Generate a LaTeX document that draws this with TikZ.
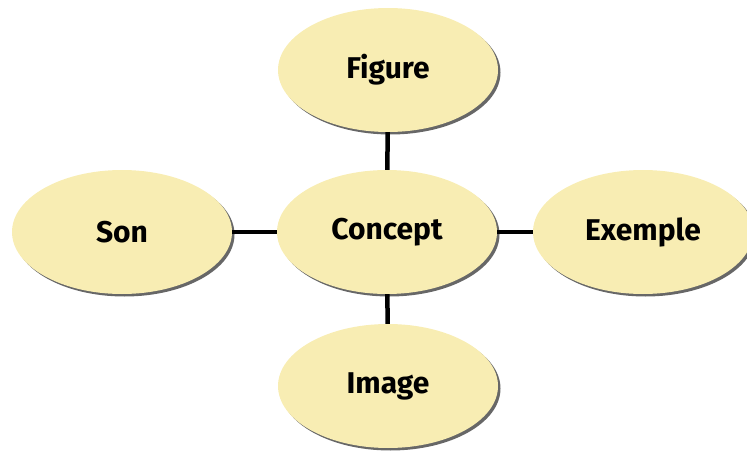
\documentclass[tikz,border=0pt]{standalone}
\usepackage{fontspec}
\setmainfont{Fira Sans}
\usepackage{tikz}
\usetikzlibrary{shapes.geometric,shadows}

\definecolor{creme}{HTML}{F8EDB3}

\begin{document}
\begin{tikzpicture}[x=1pt,y=1pt,
  bulle/.style={ellipse,fill=creme,minimum width=220pt,minimum height=124pt,inner sep=0pt,
    font=\fontsize{30}{33}\selectfont\bfseries,
    drop shadow={shadow xshift=2.5pt,shadow yshift=-2.5pt,opacity=0.7,fill=black!85}},
  lien/.style={line width=4.5pt,black}]
\useasboundingbox (0,0) rectangle (747,456);
\node[bulle] (concept) at (387,224) {Concept};
\node[bulle] (figure) at (388,386) {Figure};
\node[bulle] (son) at (122,224) {Son};
\node[bulle] (exemple) at (643,224) {Exemple};
\node[bulle] (image) at (388,70) {Image};
\draw[lien] (figure) -- (concept);
\draw[lien] (concept) -- (image);
\draw[lien] (son) -- (concept);
\draw[lien] (concept) -- (exemple);
\end{tikzpicture}
\end{document}
